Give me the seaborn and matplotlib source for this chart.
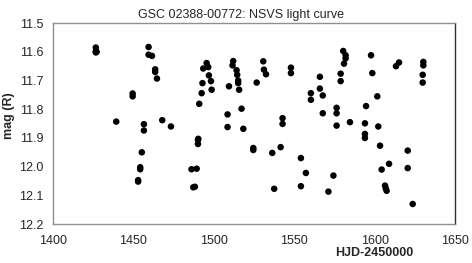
import matplotlib
matplotlib.use('Agg')
import matplotlib.pyplot as plt
import seaborn as sns
import pandas as pd

# 光变曲线数据 (HJD-2450000, R星等)
hjd = [1426.7, 1426.7, 1426.7, 1427.2, 1439.4, 1449.6, 1449.6,
       1453.0, 1453.0, 1454.3, 1454.3, 1455.3, 1456.6, 1456.6,
       1459.5, 1459.5, 1461.6, 1463.6, 1463.6, 1464.7, 1468.0, 1473.4,
       1486.2, 1487.3, 1488.3, 1489.4, 1490.2, 1490.2, 1490.4, 1491.0,
       1492.5, 1493.0, 1493.5, 1495.6, 1496.6, 1497.0, 1498.3, 1498.7,
       1508.6, 1508.6, 1509.5, 1511.7, 1512.1, 1514.2, 1514.6, 1515.2,
       1515.2, 1515.8, 1517.3, 1518.4, 1524.6, 1524.6, 1526.7, 1530.8,
       1531.2, 1532.5, 1536.4, 1537.6, 1541.6, 1542.8, 1542.8, 1548.0,
       1548.0, 1554.2, 1554.2, 1557.3, 1560.4, 1560.4, 1566.0, 1566.0,
       1567.8, 1567.8, 1571.3, 1574.4, 1576.4, 1576.4, 1576.4, 1578.9,
       1578.9, 1580.5, 1581.0, 1582.0, 1582.0, 1584.7, 1594.0, 1594.0,
       1594.0, 1594.7, 1597.8, 1598.6, 1601.7, 1602.3, 1603.4, 1604.4,
       1606.5, 1607.0, 1607.5, 1609.0, 1613.3, 1615.2, 1620.6, 1620.6,
       1623.7, 1629.9, 1629.9, 1630.3, 1630.3]
mag = [11.585, 11.598, 11.602, 11.600, 11.843, 11.745, 11.755,
       12.047, 12.052, 12.002, 12.009, 11.950, 11.852, 11.874,
       11.583, 11.610, 11.614, 11.661, 11.670, 11.693, 11.838, 11.860,
       12.009, 12.072, 12.070, 12.007, 11.907, 11.921, 11.903, 11.781,
       11.744, 11.709, 11.658, 11.639, 11.653, 11.682, 11.702, 11.732,
       11.818, 11.862, 11.720, 11.647, 11.632, 11.664, 11.680, 11.700,
       11.709, 11.732, 11.798, 11.868, 11.935, 11.942, 11.707, 11.633,
       11.662, 11.678, 11.952, 12.077, 11.932, 11.831, 11.851, 11.655,
       11.674, 11.970, 12.068, 12.022, 11.744, 11.767, 11.687, 11.728,
       11.752, 11.814, 12.087, 12.031, 11.795, 11.814, 11.857, 11.676,
       11.702, 11.597, 11.641, 11.612, 11.623, 11.845, 11.849, 11.886,
       11.900, 11.789, 11.612, 11.674, 11.755, 11.860, 11.927, 12.010,
       12.066, 12.076, 12.084, 11.990, 11.650, 11.637, 11.944, 12.005,
       12.130, 11.680, 11.707, 11.635, 11.647]

x_ticks = [1400, 1450, 1500, 1550, 1600, 1650]
y_ticks = [11.5, 11.6, 11.7, 11.8, 11.9, 12.0, 12.1, 12.2]

df = pd.DataFrame({'HJD': hjd, 'mag': mag})

sns.set_style('white')
plt.rcParams['font.family'] = ['Liberation Sans', 'DejaVu Sans']

fig = plt.figure(figsize=(4.72, 2.63), dpi=100)
ax = fig.add_axes([0.112, 0.148, 0.852, 0.764])

sns.scatterplot(data=df, x='HJD', y='mag', color='black', s=22,
                edgecolor='none', ax=ax, legend=False)

ax.set_xlim(1400, 1650)
ax.set_ylim(12.2, 11.5)
ax.set_xticks(x_ticks)
ax.set_yticks(y_ticks)
ax.set_xticklabels([str(t) for t in x_ticks])
ax.set_yticklabels([f'{t:.1f}' for t in y_ticks])
ax.tick_params(axis='x', direction='inout', length=6, width=0.8,
               color='#808080', labelsize=9, pad=5)
ax.tick_params(axis='y', direction='out', length=5, width=0.8,
               color='#808080', labelsize=9, pad=2)

# 边框
for side in ['left', 'bottom', 'top']:
    ax.spines[side].set_color('#909090')
    ax.spines[side].set_linewidth(1.0)
ax.spines['right'].set_color('#303030')
ax.spines['right'].set_linewidth(1.0)

ax.set_xlabel('')
ax.set_ylabel('mag (R)', fontsize=9, fontweight='bold', labelpad=4)
ax.yaxis.set_label_coords(-0.095, 0.54)
ax.text(1600, 12.3, 'HJD-2450000', ha='center', va='center',
        fontsize=9, fontweight='bold')
ax.set_title('GSC 02388-00772: NSVS light curve', fontsize=9, pad=4, x=0.468)

fig.savefig('out.png', dpi=100)
